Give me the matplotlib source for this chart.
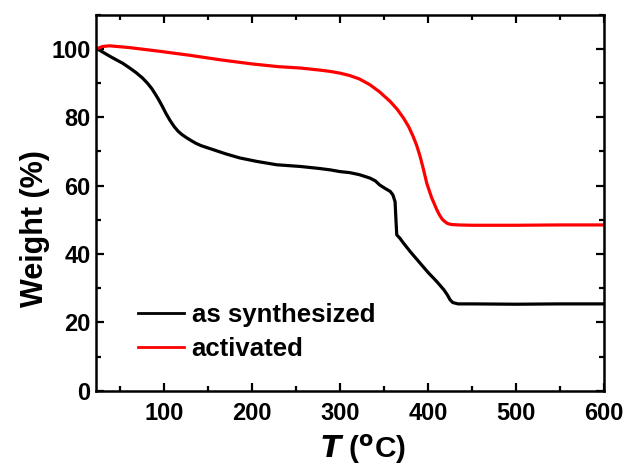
import matplotlib
matplotlib.use("Agg")
import matplotlib.pyplot as plt
from matplotlib.ticker import MultipleLocator

plt.rcParams['font.family'] = ['Liberation Sans', 'DejaVu Sans']
plt.rcParams['font.weight'] = 'bold'
plt.rcParams['mathtext.default'] = 'regular'

t_syn = [23, 27, 32, 38, 45, 53, 61, 68, 75, 81, 86, 90, 94, 98, 102, 106, 109, 112, 116, 120, 125, 130, 136, 142, 149, 156, 170, 186, 205, 228, 255, 277, 289, 300, 311, 322, 334, 340, 345, 351, 357, 360, 362.5, 363.5, 364.4, 368, 372, 380, 391, 400, 410, 418, 422, 425, 428, 434, 450, 500, 550, 600]
w_syn = [100, 99.6, 98.8, 97.9, 96.9, 95.8, 94.4, 93.1, 91.6, 90.0, 88.4, 86.8, 85.1, 83.2, 81.2, 79.4, 78.2, 77.1, 75.9, 75.0, 74.1, 73.3, 72.4, 71.7, 71.1, 70.5, 69.3, 68.1, 67.1, 66.1, 65.6, 65.0, 64.6, 64.1, 63.8, 63.2, 62.2, 61.4, 60.2, 59.2, 58.3, 57.3, 55.3, 50.0, 45.6, 44.6, 43.2, 40.6, 37.3, 34.6, 31.9, 29.5, 28.0, 26.6, 25.8, 25.4, 25.4, 25.3, 25.4, 25.4]

t_act = [23, 30, 38, 60, 95, 130, 164, 200, 230, 255, 277, 289, 300, 311, 322, 334, 345, 357, 365, 372, 378, 383, 387, 391, 395, 398.5, 404, 410, 413, 416, 419, 421.5, 425, 428, 434, 450, 500, 550, 600]
w_act = [100, 100.7, 100.9, 100.4, 99.3, 98.1, 96.8, 95.6, 94.8, 94.4, 93.8, 93.4, 92.9, 92.2, 91.2, 89.5, 87.4, 84.6, 82.3, 79.8, 77.2, 74.4, 71.8, 68.5, 64.5, 60.7, 56.5, 52.9, 51.4, 50.2, 49.5, 49.0, 48.7, 48.6, 48.5, 48.4, 48.4, 48.5, 48.5]

labels = ['as synthesized', 'activated']

fig = plt.figure(figsize=(6.26, 4.70), dpi=100)
ax = fig.add_axes([0.1534, 0.1687, 0.8116, 0.8])

ax.plot(t_syn, w_syn, color='black', lw=2.3, label=labels[0])
ax.plot(t_act, w_act, color='#ff0000', lw=2.3, label=labels[1])

ax.set_xlim(22.7, 600)
ax.set_ylim(0, 110)
ax.xaxis.set_major_locator(MultipleLocator(100))
ax.xaxis.set_minor_locator(MultipleLocator(50))
ax.yaxis.set_major_locator(MultipleLocator(20))
ax.yaxis.set_minor_locator(MultipleLocator(10))
ax.tick_params(which='both', direction='in', top=True, right=True, width=1.6, labelsize=17)
ax.tick_params(which='major', length=6)
ax.tick_params(which='minor', length=3.5)
ax.tick_params(axis='x', labeltop=False, pad=8)
ax.tick_params(axis='y', labelright=False, pad=4)
for s in ax.spines.values():
    s.set_linewidth(1.8)
for lab in ax.get_xticklabels() + ax.get_yticklabels():
    lab.set_fontweight('bold')

ax.set_xlabel(r'$\mathbfit{T}$ ($\mathbf{^o}$C)', fontsize=21.5, fontweight='bold')
ax.set_ylabel('Weight (%)', fontsize=22, fontweight='bold')
ax.xaxis.set_label_coords(0.526, -0.11)
ax.yaxis.set_label_coords(-0.09, 0.43)

leg = ax.legend(loc='lower left', bbox_to_anchor=(0.082, 0.078), frameon=False,
                fontsize=18.5, handlelength=1.8, handletextpad=0.3, labelspacing=0.4,
                borderpad=0, borderaxespad=0)
for line in leg.get_lines():
    line.set_linewidth(2.0)
for txt in leg.get_texts():
    txt.set_fontweight('bold')

fig.savefig('out.png', dpi=100)
